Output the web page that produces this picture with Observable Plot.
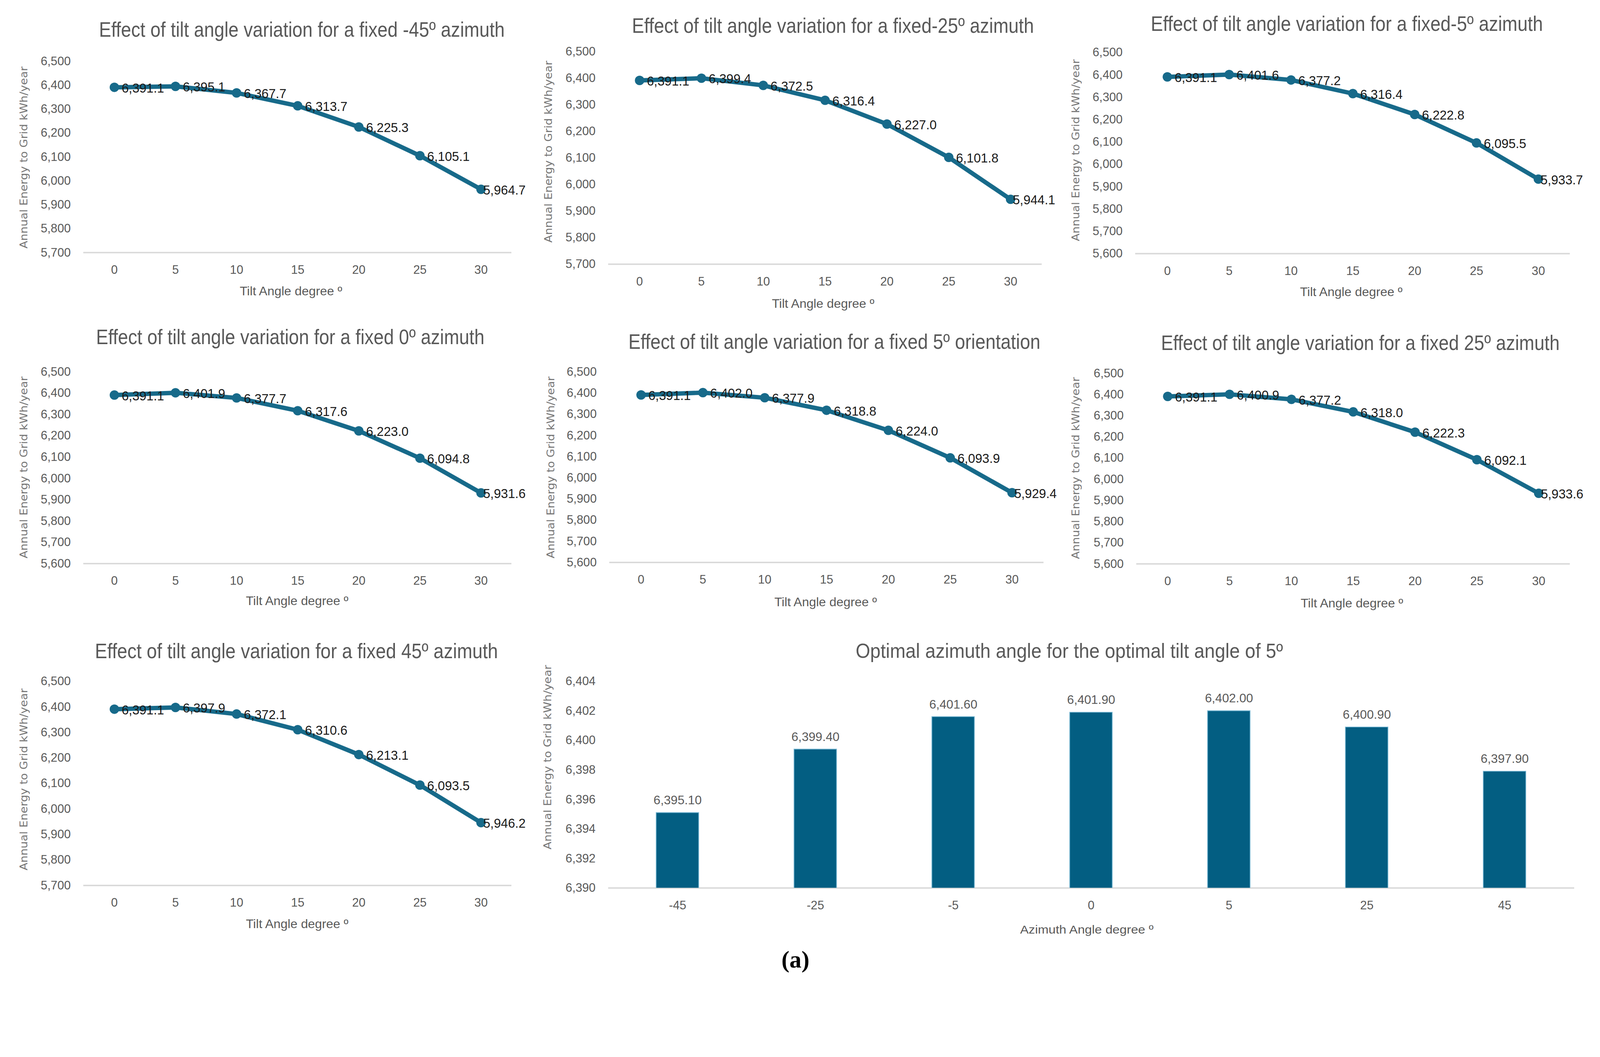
<!DOCTYPE html>
<html>
<head>
<meta charset="utf-8">
<script src="https://cdn.jsdelivr.net/npm/d3@7"></script>
<script src="https://cdn.jsdelivr.net/npm/@observablehq/plot@0.6"></script>
<style>
html, body { margin: 0; padding: 0; background: #fff; overflow: hidden; }
#root { position: relative; width: 4399px; height: 2706px; overflow: hidden; background: #fff; transform-origin: 0 0; }
.panel { position: absolute; }
.panel svg { display: block; max-width: none; overflow: visible; }
.lbl { position: absolute; white-space: nowrap; line-height: 1; transform-origin: 50% 50%; }
</style>
</head>
<body>
<div id="root"></div>
<script>
// ---------------- data ----------------
const tiltAngles = [0, 5, 10, 15, 20, 25, 30];

const energyAzimuthM45 = [6391.1, 6395.1, 6367.7, 6313.7, 6225.3, 6105.1, 5964.7];
const energyAzimuthM25 = [6391.1, 6399.4, 6372.5, 6316.4, 6227.0, 6101.8, 5944.1];
const energyAzimuthM5  = [6391.1, 6401.6, 6377.2, 6316.4, 6222.8, 6095.5, 5933.7];
const energyAzimuth0   = [6391.1, 6401.9, 6377.7, 6317.6, 6223.0, 6094.8, 5931.6];
const energyAzimuth5   = [6391.1, 6402.0, 6377.9, 6318.8, 6224.0, 6093.9, 5929.4];
const energyAzimuth25  = [6391.1, 6400.9, 6377.2, 6318.0, 6222.3, 6092.1, 5933.6];
const energyAzimuth45  = [6391.1, 6397.9, 6372.1, 6310.6, 6213.1, 6093.5, 5946.2];

const azimuthAngles = ["-45", "-25", "-5", "0", "5", "25", "45"];
const energyOptimalTilt = [6395.10, 6399.40, 6401.60, 6401.90, 6402.00, 6400.90, 6397.90];

const yTicks5700 = [5700, 5800, 5900, 6000, 6100, 6200, 6300, 6400, 6500];
const yTicks5600 = [5600, 5700, 5800, 5900, 6000, 6100, 6200, 6300, 6400, 6500];
const barYTicks  = [6390, 6392, 6394, 6396, 6398, 6400, 6402, 6404];

const lineTitles = [
  "Effect of tilt angle variation for a fixed -45\u00BA azimuth",
  "Effect of tilt angle variation for a fixed-25\u00BA azimuth",
  "Effect of tilt angle variation for a fixed-5\u00BA azimuth",
  "Effect of tilt angle variation for a fixed 0\u00BA azimuth",
  "Effect of tilt angle variation for a fixed 5\u00BA orientation",
  "Effect of tilt angle variation for a fixed 25\u00BA azimuth",
  "Effect of tilt angle variation for a fixed  45\u00BA azimuth"
];
const barTitle = "Optimal azimuth angle for the optimal tilt angle of  5\u00BA";
const yAxisTitle = "Annual Energy to Grid kWh/year";
const tiltAxisTitle = "Tilt Angle degree \u00BA";
const azimuthAxisTitle = "Azimuth Angle degree \u00BA";
const figureTag = "(a)";

// ---------------- style / layout ----------------
const LINE_COLOR = "#176a8a";
const BAR_COLOR = "#035e82";
const AXIS_TEXT = "#595959";
const FONT = "'Liberation Sans', Arial, sans-serif";
const TITLE_FONT = "'Liberation Sans Narrow', 'Liberation Sans', Arial, sans-serif";
const YT_FONT = "'DejaVu Sans', Verdana, sans-serif";

// panel layout in page pixels
const linePanels = [
  {values: energyAzimuthM45, yTicks: yTicks5700, left: 0,    top: 0,    w: 1447, h: 850,  x1: 229,  x2: 1406, yTop: 168,  yBot: 694,
   title: [830, 81, 1115], xl: [800, 800], yt: [66, 433]},
  {values: energyAzimuthM25, yTicks: yTicks5700, left: 1450, top: 0,    w: 1438, h: 850,  x1: 1672, x2: 2864, yTop: 141,  yBot: 726,
   title: [2290, 70, 1105], xl: [2263, 834], yt: [1509, 417]},
  {values: energyAzimuthM5,  yTicks: yTicks5600, left: 2900, top: 0,    w: 1499, h: 850,  x1: 3121, x2: 4316, yTop: 144,  yBot: 697,
   title: [3703, 65, 1078], xl: [3715, 802], yt: [2958, 413]},
  {values: energyAzimuth0,   yTicks: yTicks5600, left: 0,    top: 850,  w: 1447, h: 850,  x1: 229,  x2: 1406, yTop: 1022, yBot: 1549,
   title: [798, 926, 1068], xl: [817, 1652], yt: [66, 1285]},
  {values: energyAzimuth5,   yTicks: yTicks5600, left: 1450, top: 850,  w: 1438, h: 850,  x1: 1675, x2: 2869, yTop: 1022, yBot: 1546,
   title: [2294, 939, 1133], xl: [2270, 1655], yt: [1515, 1285]},
  {values: energyAzimuth25,  yTicks: yTicks5600, left: 2900, top: 850,  w: 1499, h: 850,  x1: 3124, x2: 4316, yTop: 1026, yBot: 1550,
   title: [3740, 942, 1096], xl: [3717, 1658], yt: [2958, 1287]},
  {values: energyAzimuth45,  yTicks: yTicks5700, left: 0,    top: 1700, w: 1447, h: 1006, x1: 229,  x2: 1406, yTop: 1873, yBot: 2434,
   title: [815, 1790, 1108], xl: [817, 2540], yt: [66, 2143]}
];
const barPanel = {left: 1450, top: 1700, w: 2949, h: 1006, x1: 1672, x2: 4328, yTop: 1873, yBot: 2441,
  title: [2940, 1790, 1175], xl: [2988, 2556, 367], yt: [1506, 2082]};

const root = document.getElementById("root");
const fmt1 = d3.format(",.1f");
const fmt2 = d3.format(",.2f");
const fmtTick = d3.format(",");

function place(node, p) {
  const div = document.createElement("div");
  div.className = "panel";
  div.style.left = p.left + "px";
  div.style.top = p.top + "px";
  div.style.width = p.w + "px";
  div.style.height = p.h + "px";
  div.appendChild(node);
  root.appendChild(div);
}

function baseOptions(p) {
  return {
    width: p.w, height: p.h,
    marginLeft: p.x1 - p.left,
    marginRight: p.left + p.w - p.x2,
    marginTop: p.yTop - p.top,
    marginBottom: p.top + p.h - p.yBot,
    style: {background: "transparent", color: AXIS_TEXT, fontFamily: FONT, fontSize: "33px", overflow: "visible"}
  };
}

function linePanel(p) {
  const data = tiltAngles.map((t, i) => ({tilt: t, energy: p.values[i], last: i === tiltAngles.length - 1}));
  const yMin = p.yTicks[0], yMax = p.yTicks[p.yTicks.length - 1];
  const plot = Plot.plot({
    ...baseOptions(p),
    x: {type: "point", domain: tiltAngles, padding: 0.5, tickSize: 0, tickPadding: 35, label: null},
    y: {domain: [yMin, yMax], ticks: p.yTicks, tickSize: 0, tickPadding: 35, tickFormat: fmtTick, label: null},
    marks: [
      Plot.ruleY([yMin], {stroke: "#d9d9d9", strokeWidth: 4}),
      Plot.line(data, {x: "tilt", y: "energy", stroke: LINE_COLOR, strokeWidth: 12, strokeLinejoin: "round", strokeLinecap: "round"}),
      Plot.dot(data, {x: "tilt", y: "energy", r: 13, fill: LINE_COLOR}),
      Plot.text(data.filter(d => !d.last), {x: "tilt", y: "energy", text: d => fmt1(d.energy),
        textAnchor: "start", dx: 20, dy: 3, fill: "#1a1a1a", fontSize: 35}),
      Plot.text(data.filter(d => d.last), {x: "tilt", y: "energy", text: d => fmt1(d.energy),
        textAnchor: "start", dx: 6, dy: 3, fill: "#1a1a1a", fontSize: 35})
    ]
  });
  place(plot, p);
}

function barChart(p) {
  const data = azimuthAngles.map((a, i) => ({az: a, energy: energyOptimalTilt[i]}));
  const plot = Plot.plot({
    ...baseOptions(p),
    x: {type: "band", domain: azimuthAngles, paddingInner: 0.69, paddingOuter: 0.345, tickSize: 0, tickPadding: 35, label: null},
    y: {domain: [barYTicks[0], barYTicks[barYTicks.length - 1]], ticks: barYTicks, tickSize: 0, tickPadding: 35, tickFormat: fmtTick, label: null},
    marks: [
      Plot.ruleY([barYTicks[0]], {stroke: "#d9d9d9", strokeWidth: 4}),
      Plot.barY(data, {x: "az", y: "energy", fill: BAR_COLOR, stroke: "#7ab8d3", strokeWidth: 2, clip: true}),
      Plot.text(data, {x: "az", y: "energy", text: d => fmt2(d.energy), dy: -34, fill: AXIS_TEXT, fontSize: 34})
    ]
  });
  place(plot, p);
}

function addLabel(text, cx, cy, o) {
  const el = document.createElement("div");
  el.className = "lbl";
  el.textContent = text;
  el.style.fontFamily = o.font || FONT;
  el.style.fontSize = o.size + "px";
  el.style.color = o.color || AXIS_TEXT;
  if (o.weight) el.style.fontWeight = o.weight;
  el.style.left = cx + "px";
  el.style.top = cy + "px";
  root.appendChild(el);
  let sx = 1;
  if (o.width) sx = o.width / el.offsetWidth;
  el.style.transform = `translate(-50%, -50%)${o.rotate ? " rotate(-90deg)" : ""} scaleX(${sx})`;
}

linePanels.forEach((p, i) => {
  linePanel(p);
  addLabel(lineTitles[i], p.title[0], p.title[1], {size: 58, width: p.title[2], font: TITLE_FONT});
  addLabel(tiltAxisTitle, p.xl[0], p.xl[1], {size: 34, width: 282});
  addLabel(yAxisTitle, p.yt[0], p.yt[1], {size: 28, width: 500, rotate: true, font: YT_FONT, color: "#767676"});
});

barChart(barPanel);
addLabel(barTitle, barPanel.title[0], barPanel.title[1], {size: 56, width: barPanel.title[2], font: TITLE_FONT});
addLabel(azimuthAxisTitle, barPanel.xl[0], barPanel.xl[1], {size: 32, width: barPanel.xl[2]});
addLabel(yAxisTitle, barPanel.yt[0], barPanel.yt[1], {size: 28, width: 507, rotate: true, font: YT_FONT, color: "#767676"});
addLabel(figureTag, 2187, 2638, {size: 66, weight: "bold", font: "'Liberation Serif', 'Times New Roman', serif", color: "#000"});

// fit the 4399x2706 figure into the actual viewport
function fit() {
  const s = Math.min(window.innerWidth / 4399, window.innerHeight / 2706);
  root.style.transform = s < 0.999 ? `scale(${s})` : "none";
}
fit();
window.addEventListener("resize", fit);
</script>
</body>
</html>
